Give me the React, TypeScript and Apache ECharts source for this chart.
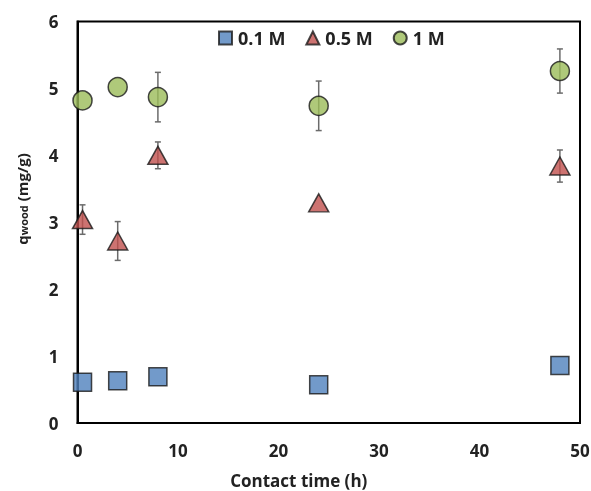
import React, { useEffect, useRef } from "react";
import * as echarts from "echarts";

const xTimes = [0.5, 4, 8, 24, 48];
const q01 = [0.61, 0.63, 0.69, 0.57, 0.86];
const q05 = [3.04, 2.72, 4.0, 3.29, 3.84];
const q1 = [4.82, 5.02, 4.87, 4.74, 5.26];
const err05 = [0.22, 0.29, 0.2, 0, 0.24];
const err1 = [0, 0, 0.37, 0.37, 0.33];
const seriesNames = ["0.1 M", "0.5 M", "1 M"];

const FONT = "'Open Sans', Lato, sans-serif";
const TXT = "#222222";

function errData(vals: number[], errs: number[]) {
  const out: number[][] = [];
  vals.forEach((v, i) => {
    if (errs[i] > 0) out.push([xTimes[i], v - errs[i], v + errs[i]]);
  });
  return out;
}

function errSeries(vals: number[], errs: number[]) {
  return {
    type: "custom",
    silent: true,
    z: 1,
    data: errData(vals, errs),
    encode: { x: 0, y: [1, 2] },
    renderItem: (params: any, api: any) => {
      const x = api.value(0);
      const lo = api.coord([x, api.value(1)]);
      const hi = api.coord([x, api.value(2)]);
      const w = 3;
      const st = { stroke: "#6b6b6b", lineWidth: 1.5 };
      return {
        type: "group",
        children: [
          { type: "line", shape: { x1: hi[0], y1: hi[1], x2: lo[0], y2: lo[1] }, style: st },
          { type: "line", shape: { x1: hi[0] - w, y1: hi[1], x2: hi[0] + w, y2: hi[1] }, style: st },
          { type: "line", shape: { x1: lo[0] - w, y1: lo[1], x2: lo[0] + w, y2: lo[1] }, style: st },
        ],
      };
    },
  };
}

function pts(vals: number[]) {
  return vals.map((v, i) => [xTimes[i], v]);
}

export default function App() {
  const ref = useRef<HTMLDivElement>(null);
  useEffect(() => {
    if (!ref.current) return;
    const chart = echarts.init(ref.current, null, { renderer: "svg" });
    const border = { borderColor: "#1a1a1a", borderWidth: 1.5 };
    chart.setOption({
      animation: false,
      grid: {
        left: 77.5,
        right: 11,
        top: 21.5,
        bottom: 68,
        outerBoundsMode: "none",
        containLabel: false,
        show: true,
        borderColor: "#000",
        borderWidth: 2,
        backgroundColor: "transparent",
      },
      graphic: [
        {
          type: "text",
          x: 20,
          y: 199,
          rotation: Math.PI / 2,
          style: {
            text: "{a|q}{b|wood}{a| (mg/g)}",
            align: "center",
            verticalAlign: "middle",
            rich: {
              a: { fontFamily: FONT, fontWeight: "bold", fontSize: 15, fill: TXT, lineHeight: 18, verticalAlign: "bottom" },
              b: { fontFamily: FONT, fontWeight: "bold", fontSize: 11, fill: TXT, lineHeight: 6, verticalAlign: "bottom" },
            },
          },
        },
      ],
      legend: {
        top: 24,
        left: 213,
        itemWidth: 13,
        itemHeight: 13,
        itemGap: 20,
        textStyle: { fontFamily: FONT, fontWeight: "bold", fontSize: 18, color: TXT, padding: [0, 0, 0, 1] },
        data: [
          { name: seriesNames[0], icon: "rect" },
          { name: seriesNames[1], icon: "triangle" },
          { name: seriesNames[2], icon: "circle" },
        ],
      },
      xAxis: {
        type: "value",
        min: 0,
        max: 50,
        interval: 10,
        name: "Contact time (h)",
        nameLocation: "middle",
        nameGap: 49,
        nameTextStyle: { fontFamily: FONT, fontWeight: "bold", fontSize: 17, lineHeight: 17, color: TXT, padding: [0, 60, 0, 0] },
        axisLine: { show: true, onZero: false, lineStyle: { color: "#000", width: 2 } },
        axisTick: { show: false },
        splitLine: { show: false },
        axisLabel: { fontFamily: FONT, fontWeight: "bold", fontSize: 17, color: TXT, margin: 19 },
      },
      yAxis: {
        type: "value",
        min: 0,
        max: 6,
        interval: 1,
        axisLine: { show: true, lineStyle: { color: "#000", width: 2 } },
        axisTick: { show: false },
        splitLine: { show: false },
        axisLabel: { fontFamily: FONT, fontWeight: "bold", fontSize: 17, color: TXT, margin: 19 },
      },
      series: [
        errSeries(q05, err05),
        errSeries(q1, err1),
        {
          name: seriesNames[0],
          type: "scatter",
          symbol: "rect",
          symbolSize: 18,
          z: 3,
          itemStyle: { color: "#4F81BD", ...border },
          data: pts(q01),
        },
        {
          name: seriesNames[1],
          type: "scatter",
          symbol: "triangle",
          symbolSize: [20, 18],
          z: 3,
          itemStyle: { color: "#C0504D", ...border },
          data: pts(q05),
        },
        {
          name: seriesNames[2],
          type: "scatter",
          symbol: "circle",
          symbolSize: 19,
          z: 3,
          itemStyle: { color: "#9BBB59", ...border },
          data: pts(q1),
        },
      ],
    });
    return () => chart.dispose();
  }, []);
  return <div ref={ref} style={{ position: "fixed", left: 0, top: 0, width: 591, height: 491 }} />;
}
